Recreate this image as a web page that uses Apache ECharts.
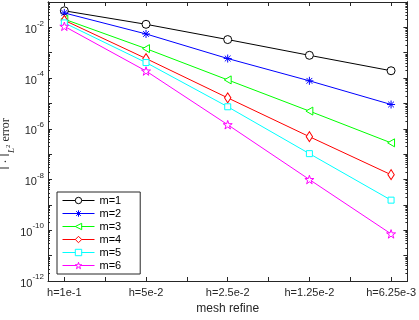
<!DOCTYPE html>
<html>
<head>
<meta charset="utf-8">
<script src="https://cdn.jsdelivr.net/npm/echarts@6/dist/echarts.min.js"></script>
<style>
  html, body { margin: 0; padding: 0; background: #fff; }
  #main { width: 419px; height: 320px; }
</style>
</head>
<body>
<div id="main"></div>
<script>
var xPos = [1, 2, 3, 4, 5];
var xLabels = ['h=1e-1', 'h=5e-2', 'h=2.5e-2', 'h=1.25e-2', 'h=6.25e-3'];
var names = ['m=1', 'm=2', 'm=3', 'm=4', 'm=5', 'm=6'];
var m1 = [0.045, 0.0132, 3.3e-3, 7.9e-4, 1.95e-4];
var m2 = [0.037, 5.5e-3, 5.9e-4, 7.8e-5, 9.1e-6];
var m3 = [0.021, 1.45e-3, 8.5e-5, 5.0e-6, 2.8e-7];
var m4 = [0.019, 5.9e-4, 1.66e-5, 4.9e-7, 1.55e-8];
var m5 = [0.015, 4.1e-4, 7.4e-6, 1.05e-7, 1.54e-9];
var m6 = [0.011, 1.9e-4, 1.45e-6, 1.0e-8, 7.2e-11];

var axisColor = '#262626';
var font = 'Liberation Sans, Arial, sans-serif';
var serif = 'Liberation Serif, DejaVu Serif, serif';

function starPath() {
	var s = 'path://';
	for (var i = 0; i < 10; i++) {
		var a = (-90 + i * 36) * Math.PI / 180;
		var r = i % 2 ? 3.82 : 10;
		s += (i ? 'L' : 'M') + (r * Math.cos(a)).toFixed(3) + ',' + (r * Math.sin(a)).toFixed(3);
	}
	return s + 'Z';
}
var circle = 'path://M10,0A10,10,0,1,1,-10,0A10,10,0,1,1,10,0Z';
var asterisk = 'path://M0,-5L0,5M-5,0L5,0M-3.6,-3.6L3.6,3.6M-3.6,3.6L3.6,-3.6';
var triLeft = 'path://M-8.66,0L8.66,-10L8.66,10Z';
var diamond = 'path://M0,-10L8,0L0,10L-8,0Z';
var square = 'path://M-5,-5L5,-5L5,5L-5,5Z';

var styles = [
	{ color: '#000000', symbol: circle, size: 8, fill: '#fff' },
	{ color: '#0000ff', symbol: asterisk, size: 8, fill: '#0000ff' },
	{ color: '#00ff00', symbol: triLeft, size: 8, fill: '#fff' },
	{ color: '#ff0000', symbol: diamond, size: [8, 10], fill: '#fff' },
	{ color: '#00ffff', symbol: square, size: 6, fill: '#fff' },
	{ color: '#ff00ff', symbol: starPath(), size: 9, fill: '#fff' }
];
var values = [m1, m2, m3, m4, m5, m6];

var series = values.map(function(vals, i) {
	var st = styles[i];
	return {
		name: names[i],
		type: 'line',
		data: vals.map(function(v, j) { return [xPos[j], v]; }),
		symbol: st.symbol,
		symbolSize: st.size,
		symbolKeepAspect: true,
		showAllSymbol: true,
		lineStyle: { color: st.color, width: 1 },
		itemStyle: { color: st.fill, borderColor: st.color, borderWidth: 1 },
		emphasis: { disabled: true },
		z: 10 + i
	};
});

var minorTicks = [];
for (var e = -12; e < -1; e++) {
	for (var k = 2; k <= 9; k++) minorTicks.push(k * Math.pow(10, e));
}
var majorTicks = [];
for (var e2 = -12; e2 <= -1; e2++) majorTicks.push(Math.pow(10, e2));
var xTicks = [1, 1.5, 2, 2.5, 3, 3.5, 4, 4.5, 5];

function yAxisDef(pos, ticks, len, showLabel) {
	return {
		type: 'log',
		logBase: 10,
		min: 1e-12,
		max: 1e-1,
		position: pos,
		axisLine: { show: true, lineStyle: { color: axisColor, width: 1 } },
		axisTick: { show: true, inside: true, length: len, customValues: ticks, lineStyle: { color: axisColor, width: 1 } },
		axisLabel: showLabel ? {
			show: true,
			margin: 4,
			customValues: [1e-12, 1e-10, 1e-8, 1e-6, 1e-4, 1e-2],
			formatter: function(v) {
				var p = Math.round(Math.log10(v));
				return '{b|10}{s|' + p + '}';
			},
			rich: {
				b: { fontSize: 11, fontFamily: font, color: axisColor, lineHeight: 16, verticalAlign: 'bottom' },
				s: { fontSize: 8, fontFamily: font, color: axisColor, lineHeight: 8, verticalAlign: 'top' }
			}
		} : { show: false },
		splitLine: { show: false }
	};
}

var myChart = echarts.init(document.getElementById('main'));
var option = {
	animation: false,
	backgroundColor: '#fff',
	grid: { left: 48, right: 10, top: 2, bottom: 34, containLabel: false },
	xAxis: [{
		type: 'value',
		min: 0.8,
		max: 5.2,
		position: 'bottom',
		name: 'mesh refine',
		nameLocation: 'middle',
		nameGap: 22,
		nameTextStyle: { fontSize: 12, fontFamily: font, color: axisColor },
		axisLine: { lineStyle: { color: axisColor, width: 1 } },
		axisTick: { inside: true, length: 4, customValues: xTicks, lineStyle: { color: axisColor } },
		axisLabel: {
			margin: 6,
			fontSize: 11,
			fontFamily: font,
			color: axisColor,
			customValues: xPos,
			formatter: function(v) { return xLabels[Math.round(v) - 1]; }
		},
		splitLine: { show: false }
	}, {
		type: 'value',
		min: 0.8,
		max: 5.2,
		position: 'top',
		axisLine: { lineStyle: { color: axisColor, width: 1 } },
		axisTick: { inside: true, length: 4, customValues: xTicks, lineStyle: { color: axisColor } },
		axisLabel: { show: false },
		splitLine: { show: false }
	}],
	yAxis: [
		yAxisDef('left', majorTicks, 4, true),
		yAxisDef('left', minorTicks, 2, false),
		yAxisDef('right', majorTicks, 4, false),
		yAxisDef('right', minorTicks, 2, false)
	],
	legend: {
		orient: 'vertical',
		left: 57,
		top: 192,
		data: names,
		itemWidth: 32,
		itemHeight: 8,
		itemGap: 2,
		padding: [3, 19, 3, 5],
		borderColor: axisColor,
		borderWidth: 1,
		backgroundColor: '#fff',
		lineStyle: { width: 1 },
		itemStyle: { borderWidth: 1 },
		textStyle: { fontSize: 11, fontFamily: font, color: '#000', lineHeight: 11 }
	},
	graphic: [{
		type: 'text',
		x: 8,
		y: 144,
		rotation: Math.PI / 2,
		style: {
			text: '{n|‖ · ‖}{l|L}{t|2}{n| error}',
			align: 'center',
			verticalAlign: 'middle',
			rich: {
				n: { fontSize: 12, fontFamily: serif, fill: axisColor, lineHeight: 16, verticalAlign: 'top' },
				l: { fontSize: 9, fontStyle: 'italic', fontFamily: serif, fill: axisColor, lineHeight: 9, padding: [7, 0, 0, 0], verticalAlign: 'top' },
				t: { fontSize: 7, fontFamily: serif, fill: axisColor, lineHeight: 7, padding: [5, 0, 0, 0], verticalAlign: 'top' }
			}
		}
	}],
	series: series
};
myChart.setOption(option);
</script>
</body>
</html>
